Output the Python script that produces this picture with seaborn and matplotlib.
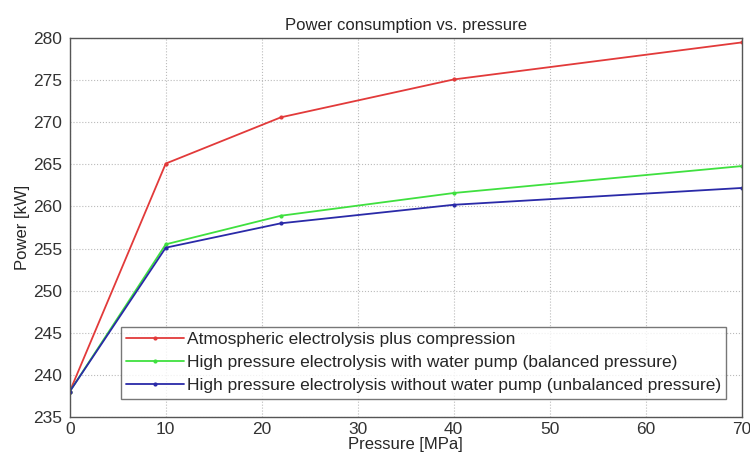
import matplotlib
matplotlib.use("Agg")
import matplotlib.pyplot as plt
import seaborn as sns
import pandas as pd

# data
pressure = [0, 10, 22, 40, 70]
atmospheric = [238.0, 265.1, 270.6, 275.1, 279.5]
balanced = [238.0, 255.5, 258.9, 261.6, 264.8]
unbalanced = [238.0, 255.1, 258.0, 260.2, 262.2]
labels = ["Atmospheric electrolysis plus compression",
          "High pressure electrolysis with water pump (balanced pressure)",
          "High pressure electrolysis without water pump (unbalanced pressure)"]
colors = ["#e23a3a", "#3fe03f", "#2a2aa8"]

sns.set_style("whitegrid", {"grid.linestyle": ":", "grid.color": "#bbbbbb",
                            "axes.edgecolor": "#555555"})
plt.rcParams["font.family"] = ["Liberation Sans", "DejaVu Sans"]
plt.rcParams["font.size"] = 11

df = pd.DataFrame({
    "Pressure": pressure * 3,
    "Power": atmospheric + balanced + unbalanced,
    "Series": [labels[0]] * 5 + [labels[1]] * 5 + [labels[2]] * 5,
})

fig = plt.figure(figsize=(7.5, 4.55), dpi=100)
ax = fig.add_axes([0.093, 0.084, 0.896, 0.832])
sns.lineplot(data=df, x="Pressure", y="Power", hue="Series", palette=colors,
             marker="o", markersize=3, markeredgewidth=0, linewidth=1.3, ax=ax)

ax.set_xlim(0, 70)
ax.set_ylim(235, 280)
ax.set_xticks(range(0, 71, 10))
ax.set_yticks(range(235, 281, 5))
ax.tick_params(axis="y", labelsize=12.5, colors="#333333", pad=2)
ax.tick_params(axis="x", labelsize=12.5, colors="#333333", pad=0)
ax.set_xlabel("Pressure [MPa]", fontsize=12, labelpad=0)
ax.set_ylabel("Power [kW]", fontsize=12, labelpad=2)
ax.set_title("Power consumption vs. pressure", fontsize=12, pad=6)
for s in ax.spines.values():
    s.set_linewidth(1.0)

leg = ax.legend(loc="lower right", fontsize=12.5, frameon=True, fancybox=False,
                borderpad=0.3, labelspacing=0.45, handlelength=3.3,
                handletextpad=0.2, bbox_to_anchor=(0.99, 0.025))
leg.get_frame().set_edgecolor("#555555")
leg.get_frame().set_linewidth(1.0)

fig.savefig("out.png", dpi=100)
